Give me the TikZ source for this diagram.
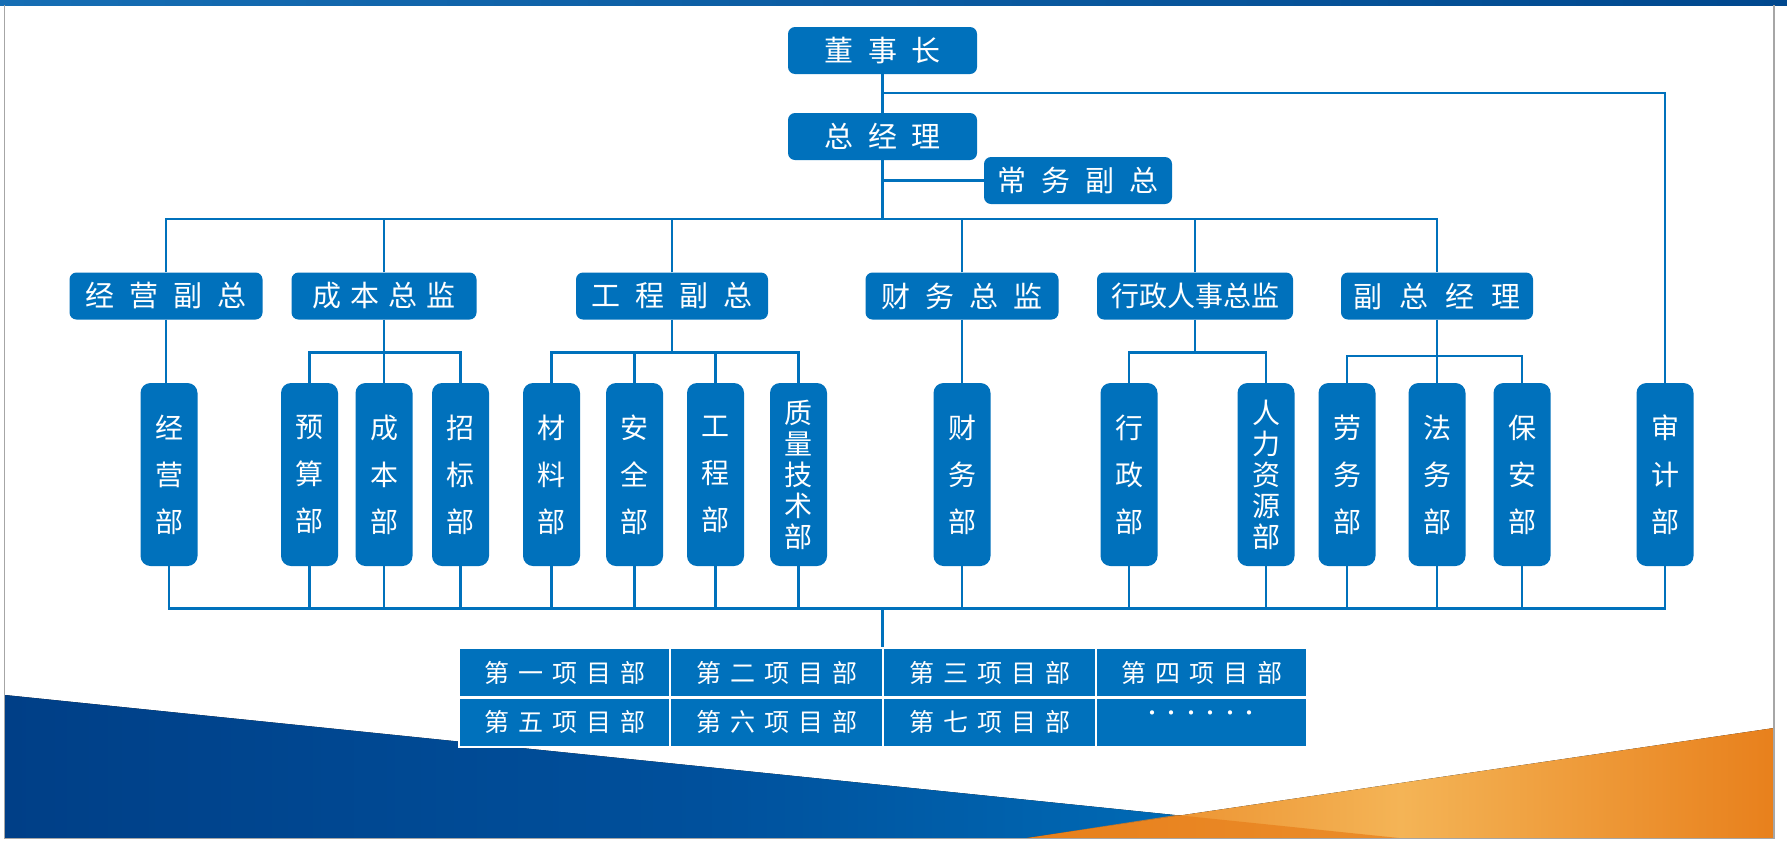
\documentclass[tikz,border=0pt]{standalone}
\usepackage{fontspec}
\setmainfont{Noto Sans CJK SC}
\definecolor{cblue}{RGB}{0,113,188}
\definecolor{navyA}{RGB}{0,63,135}
\definecolor{navyB}{RGB}{0,80,156}
\definecolor{blueR}{RGB}{0,118,192}
\definecolor{orA}{RGB}{232,128,28}
\definecolor{orB}{RGB}{244,180,86}
\definecolor{bandA}{RGB}{22,110,180}
\definecolor{bandB}{RGB}{0,72,142}
\newcommand\kgA{\hspace{15pt}}
\newcommand\kgB{\hspace{9pt}}
\newcommand\kgC{\hspace{17pt}}
\newcommand\kgT{\hspace{9pt}}
\newcommand\dotcell{\makebox[19.5pt][c]{·}}
\begin{document}
\begin{tikzpicture}[x=1pt,y=-1pt,
  topbox/.style={fill=cblue, rounded corners=7pt, minimum width=#1, minimum height=47pt, inner sep=0pt, text=white, font=\fontsize{29}{34}\selectfont},
  vbox/.style={fill=cblue, rounded corners=10pt, minimum width=57pt, minimum height=183pt, inner sep=0pt, text=white, align=center, font=\fontsize{28}{47}\selectfont},
  vboxtight/.style={vbox, font=\fontsize{28}{31}\selectfont},
  link/.style={draw=cblue, line width=2.2pt},
  cell/.style={fill=cblue, draw=white, line width=2pt, minimum width=#1, minimum height=49pt, inner sep=0pt, text=white, font=\fontsize{25}{30}\selectfont}]
\useasboundingbox (0,0) rectangle (1787,844);
\fill[white] (0,0) rectangle (1787,844);
% background decorations
\fill[left color=navyA, right color=blueR, middle color=navyB] (5,695) -- (1399,838) -- (5,838) -- cycle;
\fill[left color=orA, right color=orA, middle color=orB] (1027,838) -- (1774,728) -- (1774,838) -- cycle;
\fill[orA, opacity=0.75] (1027,838) -- (1176,815) -- (1399,838) -- cycle;
\fill[left color=bandA, right color=bandB] (0,0) rectangle (1787,5);
\draw[gray!70, line width=1.5pt] (4.5,5) -- (4.5,838.5) -- (1774,838.5) -- (1774,5);

% coordinates for bus levels
\coordinate (audY) at (0,93);
\coordinate (busY) at (0,219);
\coordinate (subY) at (0,352.5);
\coordinate (subY2) at (0,356);
\coordinate (botY) at (0,608.5);

% top level
\node[topbox=189pt] (dsz) at (882.5,50.5) {董\kgA 事\kgA 长};
\node[topbox=189pt] (zjl) at (882.5,136.5) {总\kgA 经\kgA 理};
\node[topbox=188pt] (cwfz) at (1078,180.5) {常\kgA 务\kgA 副\kgA 总};

% second level
\node[topbox=193pt] (jyfz) at (166,296) {经\kgA 营\kgA 副\kgA 总};
\node[topbox=185pt] (cbzj) at (384,296) {成\kgB 本\kgB 总\kgB 监};
\node[topbox=192pt] (gcfz) at (672,296) {工\kgA 程\kgA 副\kgA 总};
\node[topbox=193pt] (cwzj) at (962,296) {财\kgA 务\kgA 总\kgA 监};
\node[topbox=196pt, font=\fontsize{28}{32}\selectfont] (xzrs) at (1195,296) {行政人事总监};
\node[topbox=192pt] (fzjl) at (1437,296) {副\kgC 总\kgC 经\kgC 理};

% third level
\node[vbox] (jyb) at (169,474.5) {经\\营\\部};
\node[vbox] (ysb) at (309.5,474.5) {预\\算\\部};
\node[vbox] (cbb) at (384,474.5) {成\\本\\部};
\node[vbox] (zbb) at (460.5,474.5) {招\\标\\部};
\node[vbox] (clb) at (551.5,474.5) {材\\料\\部};
\node[vbox] (aqb) at (634.5,474.5) {安\\全\\部};
\node[vbox] (gcb) at (715.5,474.5) {工\\程\\部};
\node[vboxtight] (zlb) at (798.5,474.5) {质\\量\\技\\术\\部};
\node[vbox] (cwb) at (962,474.5) {财\\务\\部};
\node[vbox] (xzb) at (1129,474.5) {行\\政\\部};
\node[vboxtight] (rlb) at (1266,474.5) {人\\力\\资\\源\\部};
\node[vbox] (lwb) at (1347,474.5) {劳\\务\\部};
\node[vbox] (fwb) at (1437,474.5) {法\\务\\部};
\node[vbox] (bab) at (1522,474.5) {保\\安\\部};
\node[vbox] (sjb) at (1665,474.5) {审\\计\\部};

% project table
\node[cell=211pt] (p1) at (564.5,672.5) {第\kgT 一\kgT 项\kgT 目\kgT 部};
\node[cell=213pt] (p2) at (776.5,672.5) {第\kgT 二\kgT 项\kgT 目\kgT 部};
\node[cell=213pt] (p3) at (989.5,672.5) {第\kgT 三\kgT 项\kgT 目\kgT 部};
\node[cell=211pt] (p4) at (1201.5,672.5) {第\kgT 四\kgT 项\kgT 目\kgT 部};
\node[cell=211pt] (p5) at (564.5,722) {第\kgT 五\kgT 项\kgT 目\kgT 部};
\node[cell=213pt] (p6) at (776.5,722) {第\kgT 六\kgT 项\kgT 目\kgT 部};
\node[cell=213pt] (p7) at (989.5,722) {第\kgT 七\kgT 项\kgT 目\kgT 部};
\node[cell=211pt] (p8) at (1201.5,722) {};
\node[text=white, font=\fontsize{20}{24}\selectfont, inner sep=0pt] (dots) at (1201,716) {\dotcell\dotcell\dotcell\dotcell\dotcell\dotcell};

% connectors
\draw[link] (dsz.south) -- (zjl.north);
\draw[link] (dsz.south |- audY) -- (sjb.north |- audY) -- (sjb.north);
\draw[link] (cwfz.west) -- (cwfz.west -| zjl.south);
\draw[link] (zjl.south) -- (zjl.south |- busY);
\draw[link] (jyfz.north) -- (jyfz.north |- busY) -| (fzjl.north);
\draw[link] (cbzj.north) -- (cbzj.north |- busY);
\draw[link] (gcfz.north) -- (gcfz.north |- busY);
\draw[link] (cwzj.north) -- (cwzj.north |- busY);
\draw[link] (xzrs.north) -- (xzrs.north |- busY);

\draw[link] (jyfz.south) -- (jyfz.south |- jyb.north);
\draw[link] (ysb.north) -- (ysb.north |- subY) -| (zbb.north);
\draw[link] (cbzj.south) -- (cbb.north);
\draw[link] (clb.north) -- (clb.north |- subY) -| (zlb.north);
\draw[link] (aqb.north) -- (aqb.north |- subY);
\draw[link] (gcb.north) -- (gcb.north |- subY);
\draw[link] (gcfz.south) -- (gcfz.south |- subY);
\draw[link] (cwzj.south) -- (cwb.north);
\draw[link] (xzb.north) -- (xzb.north |- subY) -| (rlb.north);
\draw[link] (xzrs.south) -- (xzrs.south |- subY);
\draw[link] (lwb.north) -- (lwb.north |- subY2) -| (bab.north);
\draw[link] (fzjl.south) -- (fwb.north);

\draw[link] (jyb.south) -- (jyb.south |- botY) -| (sjb.south);
\foreach \n in {ysb,cbb,zbb,clb,aqb,gcb,zlb,cwb,xzb,rlb,lwb,fwb,bab}
  \draw[link] (\n.south) -- (\n.south |- botY);
\draw[link] (zjl.south |- botY) -- (zjl.south |- p3.north);
\end{tikzpicture}
\end{document}
